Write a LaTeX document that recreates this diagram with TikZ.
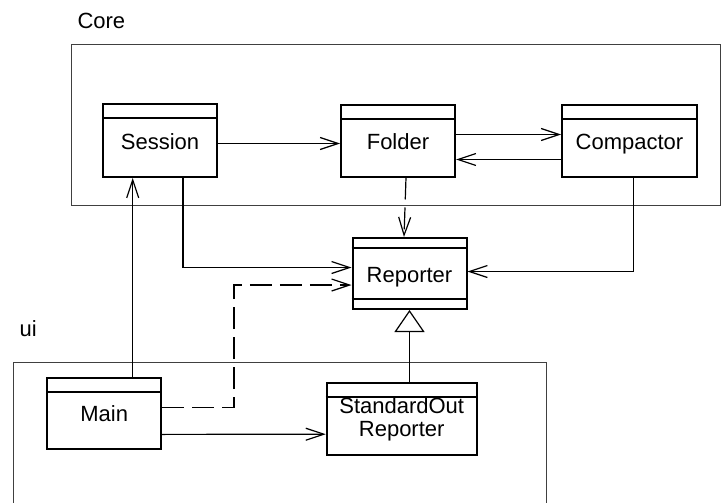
\documentclass[tikz,border=0pt]{standalone}
\usepackage{fontspec}
\setmainfont{Liberation Sans}
\usetikzlibrary{arrows.meta,positioning}

\begin{document}
\begin{tikzpicture}[x=1pt,y=-1pt,font=\fontsize{22}{23}\selectfont]
  \tikzstyle{cls}=[draw,line width=2pt,minimum width=114pt,minimum height=72pt,align=center,inner sep=0pt]
  \tikzstyle{onename}=[cls,text height=21pt,text depth=4pt]
  \tikzstyle{pkg}=[draw=black!75,line width=1pt,inner sep=0pt]
  \tikzstyle{assoc}=[line width=1.2pt,-{Straight Barb[length=18pt,width=12pt]}]
  \tikzstyle{dep}=[assoc,dash pattern=on 22pt off 8pt]
  \tikzstyle{gen}=[line width=1.2pt,-{Triangle[open,length=22pt,width=30pt]}]
  \useasboundingbox (0,0) rectangle (723,503);
  % packages
  \node[pkg,minimum width=649pt,minimum height=160pt] (core) at (395.5,125) {};
  \node[anchor=base west] (coretitle) at (74,29) {Core};
  \node[pkg,minimum width=533pt,minimum height=158pt] (ui) at (279.5,441.5) {};
  \node[anchor=base west] (uititle) at (16,336) {ui};
  % classes
  \node[onename,minimum height=73pt] (session) at (160,140.5) {Session};
  \node[onename,right=122pt of session] (folder) {Folder};
  \node[onename,minimum width=135pt,right=105pt of folder] (compactor) {Compactor};
  \node[onename,minimum height=71pt] (reporter) at (409.5,273.5) {Reporter};
  \node[onename,minimum height=71pt] (main) at (104.2,413.4) {Main};
  \node[cls,minimum width=150pt] (stdout) at (401.7,419.2) {StandardOut\\Reporter};
  % name compartments
  \foreach \c in {session,folder,compactor,main,stdout}
    \draw[line width=2pt] ([yshift=-15pt]\c.north west) -- ([yshift=-15pt]\c.north east);
  \draw[line width=2pt] ([yshift=-11pt]reporter.north west) -- ([yshift=-11pt]reporter.north east);
  \draw[line width=2pt] ([yshift=11pt]reporter.south west) -- ([yshift=11pt]reporter.south east);
  % associations and dependencies
  \draw[assoc] ([yshift=-3pt]session.east) -- ([yshift=-3pt]folder.west);
  \draw[assoc] ([yshift=6pt]folder.east) -- ([yshift=6pt]compactor.west);
  \draw[assoc] ([yshift=-19pt]compactor.west) -- ([yshift=-19pt]folder.east);
  \draw[dep] ([xshift=8pt]folder.south) -- ([xshift=-5.5pt]reporter.north);
  \draw[assoc] ([xshift=23pt]session.south) |- ([yshift=6pt]reporter.west);
  \draw[assoc] ([xshift=4pt]compactor.south) |- ([yshift=2pt]reporter.east);
  \draw[assoc] ([xshift=28.5pt]main.north) -- ([xshift=-27.3pt]session.south);
  \coordinate (elbow) at (234,285);
  \draw[dep] ([yshift=6pt]main.east) -| (elbow) -- (elbow -| reporter.west);
  \draw[assoc] ([yshift=-21pt]main.east) -- ([yshift=-15pt]stdout.west);
  \draw[gen] (stdout.north -| reporter.south) -- (reporter.south);
\end{tikzpicture}
\end{document}
